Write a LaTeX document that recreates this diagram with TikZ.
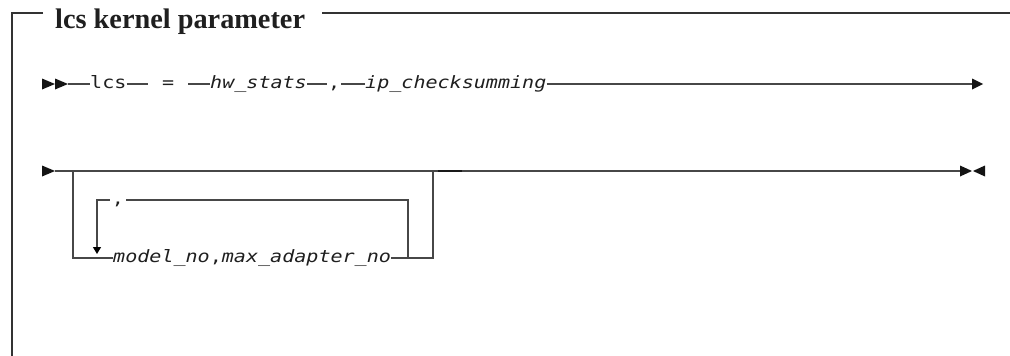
\documentclass[tikz,border=0pt]{standalone}
\usepackage{fontspec}
\setmainfont{Liberation Serif}
\newfontfamily\synmono[FakeStretch=1.18]{DejaVu Sans Mono}
\usetikzlibrary{arrows.meta}
\tikzset{
  lineclr/.style={draw=black!72, line width=1.3pt},
  framestyle/.style={draw=black!80, line width=1.5pt},
  syn/.style={font=\synmono\fontsize{17}{20}\selectfont, text=black!88, inner xsep=0pt, inner ysep=2pt, text height=9pt, text depth=0pt, anchor=west},
  synit/.style={syn, font=\synmono\itshape\fontsize{17}{20}\selectfont},
  tipfill/.style={fill=black!92, draw=none},
  downtip/.style={-{Triangle[width=8pt,length=7pt,color=black]}},
}
\begin{document}
\begin{tikzpicture}[x=1pt,y=-1pt]
\useasboundingbox (0,0) rectangle (1010,356);
% title and frame
\node[font=\bfseries\fontsize{28.3}{30}\selectfont, anchor=base west, inner sep=0pt, text=black!88] (title) at (55,28) {lcs kernel parameter};
\coordinate (ftl) at (12,13);
\coordinate (fbl) at (12,356);
\coordinate (fa) at (43,13);
\coordinate (fb) at (322,13);
\coordinate (fr) at (1010,13);
\draw[framestyle] (fa) -- (ftl) -- (fbl);
\draw[framestyle] (fb) -- (fr);
% line 1
\fill[tipfill] (42,78.5) -- (55,84) -- (42,89.5) -- cycle;
\fill[tipfill] (55,78.5) -- (68,84) -- (55,89.5) -- cycle;
\coordinate (s1) at (68,84);
\node[syn] (lcs) at (90,84) {lcs};
\node[syn, minimum width=40pt, align=center] (eq) at (148,84) {=};
\node[synit] (hw) at (210,84) {hw\_stats};
\node[syn, inner xsep=1pt] (cm1) at (327,84) {,};
\node[synit] (ip) at (365,84) {ip\_checksumming};
\coordinate (e1) at (972,84);
\draw[lineclr] (s1) -- (lcs.west);
\draw[lineclr] (lcs.east) -- (eq.west);
\draw[lineclr] (eq.east) -- (hw.west);
\draw[lineclr] (hw.east) -- (cm1.west);
\draw[lineclr] (cm1.east) -- (ip.west);
\draw[lineclr] (ip.east) -- (e1);
\fill[tipfill] (972,78.5) -- (983,84) -- (972,89.5) -- cycle;
% line 2
\fill[tipfill] (42,165.5) -- (55,171) -- (42,176.5) -- cycle;
\coordinate (s2) at (55,171);
\coordinate (ob1) at (73,171);
\coordinate (ob2) at (433,171);
\coordinate (e2) at (960,171);
\draw[lineclr] (s2) -- (e2);
\node[synit] (mdl) at (113,258) {model\_no\textup{,}max\_adapter\_no};
\draw[lineclr] (ob1) |- (mdl.west);
\draw[lineclr] (mdl.east) -| (ob2);
\node[syn, anchor=center, inner xsep=2pt] (cm2) at (118,200) {,};
\coordinate (ir) at (408,258);
\coordinate (ilb) at (97,254);
\draw[lineclr] (ir) |- (cm2.east);
\draw[lineclr, downtip] (cm2.west) -| (ilb);
\coordinate (tk1) at (438,171);
\coordinate (tk2) at (462,171);
\draw[line width=2.4pt, black!90] (tk1) -- (tk2);
\fill[tipfill] (960,165.5) -- (972,171) -- (960,176.5) -- cycle;
\fill[tipfill] (985,165.5) -- (973,171) -- (985,176.5) -- cycle;
\end{tikzpicture}
\end{document}
